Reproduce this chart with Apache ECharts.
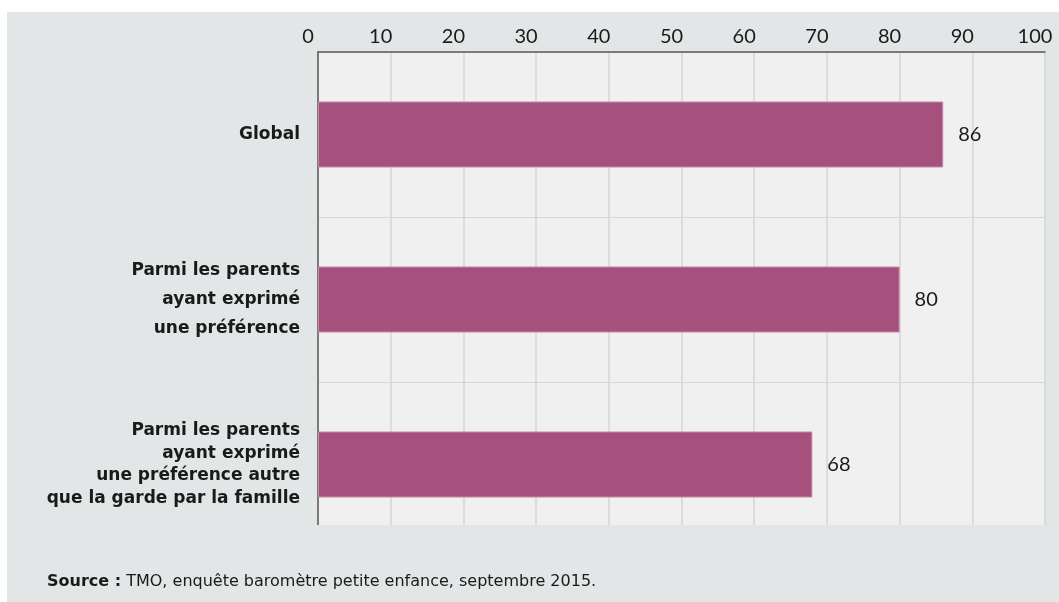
<!DOCTYPE html>
<html>
<head>
<meta charset="utf-8">
<script src="https://cdn.jsdelivr.net/npm/echarts@6/dist/echarts.min.js"></script>
<style>
html,body{margin:0;padding:0;background:#fff;width:1059px;height:602px;overflow:hidden;}
#main{position:absolute;left:7px;top:12px;width:1052px;height:590px;}
</style>
</head>
<body>
<div id="main"></div>
<script>
const categories = [
  'Global',
  'Parmi les parents\nayant exprimé\nune préférence',
  'Parmi les parents\nayant exprimé\nune préférence autre\nque la garde par la famille'
];
const values = [86, 80, 68];
const xTicks = { min: 0, max: 100, interval: 10 };
const sourceLabel = 'Source :';
const sourceText = ' TMO, enquête baromètre petite enfance, septembre 2015.';

const chart = echarts.init(document.getElementById('main'));
const richStyles = ['a', 'b', 'c'];
const catFont = { fontFamily: 'DejaVu Sans, sans-serif', fontWeight: 'bold', fontSize: 17, color: '#1a1a1a' };
chart.setOption({
  backgroundColor: '#e2e6e6',
  animation: false,
  title: {
    text: '{b|' + sourceLabel + '}{n|' + sourceText + '}',
    left: 35,
    top: 557,
    textStyle: {
      rich: {
        b: { fontFamily: 'DejaVu Sans, sans-serif', fontWeight: 'bold', fontSize: 16, color: '#1a1a1a' },
        n: { fontFamily: 'DejaVu Sans, sans-serif', fontWeight: 'normal', fontSize: 16, color: '#1a1a1a' }
      }
    }
  },
  grid: {
    left: 311, width: 727, top: 40, bottom: 55,
    show: true, backgroundColor: '#f0f0f0', borderWidth: 0
  },
  xAxis: {
    type: 'value', position: 'top',
    min: xTicks.min, max: xTicks.max, interval: xTicks.interval,
    axisLine: { show: true, lineStyle: { color: '#5a5a5a', width: 1.5 } },
    axisTick: { show: false },
    splitLine: { show: true, lineStyle: { color: '#d6d6d6', width: 1.5 } },
    axisLabel: { fontFamily: 'Lato, sans-serif', fontSize: 20, color: '#1a1a1a', margin: 5, padding: [0, 20, 0, 0] }
  },
  yAxis: {
    type: 'category', inverse: true, data: categories,
    axisLine: { show: true, lineStyle: { color: '#5a5a5a', width: 1.5 } },
    axisTick: { show: false },
    splitLine: { show: true, lineStyle: { color: '#d6d6d6', width: 1 } },
    axisLabel: {
      margin: 18, align: 'right',
      formatter: function (v, i) {
        const s = richStyles[i] || 'a';
        return v.split('\n').map(l => '{' + s + '|' + l + '}').join('\n');
      },
      rich: {
        a: Object.assign({ lineHeight: 29 }, catFont),
        b: Object.assign({ lineHeight: 29 }, catFont),
        c: Object.assign({ lineHeight: 22.5 }, catFont)
      }
    }
  },
  graphic: [{
    type: 'rect', z: 100, silent: true,
    shape: { x: 290, y: 513, width: 760, height: 30 },
    style: { fill: '#e2e6e6' }
  }],
  series: [{
    type: 'bar',
    data: values,
    barWidth: 66,
    itemStyle: { color: '#a5507d', borderColor: '#c48aa8', borderWidth: 1 },
    label: {
      show: true, position: 'right', distance: 15,
      fontFamily: 'Lato, sans-serif', fontSize: 20, color: '#1a1a1a'
    }
  }]
});
</script>
</body>
</html>
